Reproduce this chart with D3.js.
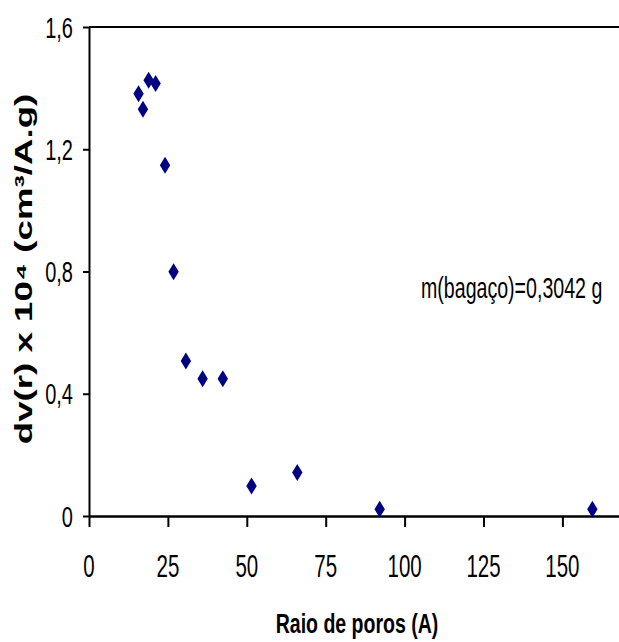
<!DOCTYPE html>
<html lang="en">
<head>
    <meta charset="UTF-8">
    <title>Raio de poros</title>
    <style>
        body { margin: 0; background: #ffffff; }
        svg { display: block; background: #ffffff; }
        text { font-family: "Liberation Sans", Arial, sans-serif; fill: #000; }
    </style>
    <script src="https://d3js.org/d3.v7.min.js"></script>
</head>
<body>
    <svg width="619" height="642"></svg>
    <script>
        // data
        const raio = [15.7, 17.1, 18.9, 21.1, 24.1, 26.8, 30.7, 36.0, 42.4, 51.5, 66.0, 92.1, 159.5];
        const dv = [1.382, 1.331, 1.426, 1.415, 1.148, 0.799, 0.507, 0.449, 0.449, 0.098, 0.142, 0.022, 0.022];
        const xTicks = [0, 25, 50, 75, 100, 125, 150];
        const yTicks = [0, 0.4, 0.8, 1.2, 1.6];
        const note = "m(bagaço)=0,3042 g";

        const svg = d3.select("svg");
        const width = +svg.attr("width");

        // the original chart is stretched vertically, text too
        const stretch = 1.5;

        const x = d3.scaleLinear().domain([0, 175]).range([89, 89 + 175 * 3.156]);
        const y = d3.scaleLinear().domain([0, 1.6]).range([516, 27]);

        // top border of plot area
        svg.append("line")
            .attr("x1", x(0)).attr("x2", width)
            .attr("y1", y(1.6)).attr("y2", y(1.6))
            .attr("stroke", "#000").attr("stroke-width", 2);

        // y axis
        const yAxis = svg.append("g")
            .attr("transform", `translate(${x(0)},0)`)
            .call(d3.axisLeft(y).tickValues(yTicks).tickSize(6).tickSizeOuter(0).tickFormat(""));
        yAxis.selectAll("path, line").attr("stroke", "#000").attr("stroke-width", 2);

        // x axis
        const xAxis = svg.append("g")
            .attr("transform", `translate(0,${y(0)})`)
            .call(d3.axisBottom(x).tickValues(xTicks).tickSize(11).tickSizeOuter(0).tickFormat(""));
        xAxis.select("path").attr("stroke", "#000").attr("stroke-width", 2.5);
        xAxis.selectAll("line").attr("stroke", "#000").attr("stroke-width", 2);

        // tick labels
        const yFmt = d => d === 0 ? "0" : d.toFixed(1).replace(".", ",");
        svg.selectAll(".ylab")
            .data(yTicks)
            .join("text")
            .attr("class", "ylab")
            .attr("text-anchor", "end")
            .attr("font-size", 20)
            .attr("transform", d => `translate(73,${y(d) + 10.5}) scale(1,${stretch})`)
            .text(yFmt);

        svg.selectAll(".xlab")
            .data(xTicks)
            .join("text")
            .attr("class", "xlab")
            .attr("text-anchor", "middle")
            .attr("font-size", 20.5)
            .attr("transform", d => `translate(${x(d)},577) scale(1,${stretch})`)
            .text(d => d);

        // points
        const diamond = "M0,-8.5L5.2,0L0,8.5L-5.2,0Z";
        svg.selectAll(".pt")
            .data(raio.map((r, i) => [r, dv[i]]))
            .join("path")
            .attr("class", "pt")
            .attr("d", diamond)
            .attr("transform", d => `translate(${x(d[0])},${y(d[1])})`)
            .attr("fill", "#000080");

        // annotation
        svg.append("text")
            .attr("font-size", 19.6)
            .attr("transform", `translate(421,298) scale(1,${stretch})`)
            .text(note);

        // axis titles
        svg.append("text")
            .attr("text-anchor", "middle")
            .attr("font-size", 19.5)
            .attr("font-weight", "bold")
            .attr("transform", "translate(357,633) scale(1,1.4)")
            .text("Raio de poros (A)");

        svg.append("text")
            .attr("text-anchor", "middle")
            .attr("font-size", 24)
            .attr("font-weight", "bold")
            .attr("transform", "translate(32,269) rotate(-90) scale(1.53,1)")
            .text("dv(r) x 10⁴ (cm³/A.g)");
    </script>
</body>
</html>
